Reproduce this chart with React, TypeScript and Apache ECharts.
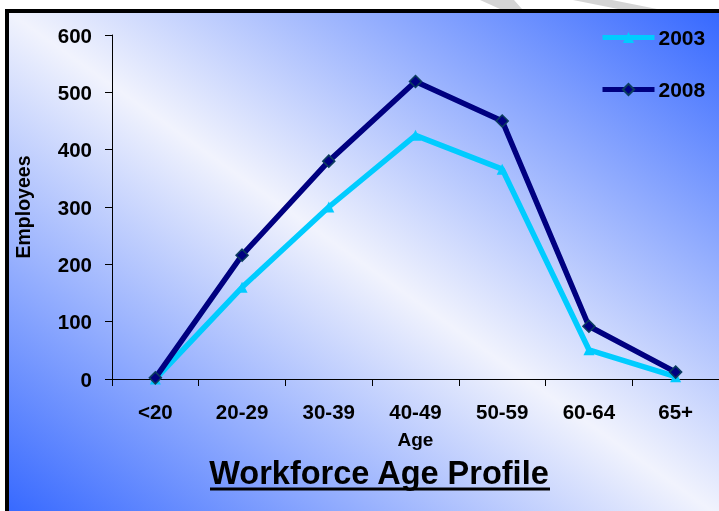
import React, { useEffect, useRef } from "react";
import * as echarts from "echarts";

const categories = ["<20", "20-29", "30-39", "40-49", "50-59", "60-64", "65+"];
const series2003 = [0, 160, 300, 425, 366, 51, 4];
const series2008 = [2, 216, 380, 519, 450, 92, 12];
const yTicks = { min: 0, max: 600, interval: 100 };

const FONT = "'Liberation Sans', Arial, sans-serif";

export default function App() {
  const ref = useRef<HTMLDivElement>(null);
  useEffect(() => {
    if (!ref.current) return;
    const chart = echarts.init(ref.current, null, { renderer: "svg" });
    const labelStyle = { color: "#000", fontWeight: "bold" as const, fontSize: 20, fontFamily: FONT };
    const legendCommon = {
      left: 600,
      padding: 0,
      itemWidth: 52,
      itemHeight: 14,
      itemGap: 4,
      lineStyle: { width: 5 },
      textStyle: { ...labelStyle, fontSize: 21, lineHeight: 20, padding: [0, 0, 0, -1] },
    };
    chart.setOption({
      animation: false,
      graphic: [
        {
          type: "polygon",
          z: -20,
          shape: { points: [[480, 0], [514, 0], [522, 9], [500, 9]] },
          style: { fill: "#d4d4d4" },
        },
        {
          type: "polygon",
          z: -20,
          shape: { points: [[573, 0], [612, 0], [657, 9], [618, 9]] },
          style: { fill: "#d4d4d4" },
        },
        {
          type: "rect",
          z: -10,
          shape: { x: 7, y: 11, width: 722, height: 512 },
          style: {
            stroke: "#000",
            lineWidth: 4,
            fill: new echarts.graphic.LinearGradient(1, 0, 0, 1, [
              { offset: 0, color: "#3366ff" },
              { offset: 0.5, color: "#f1f3fd" },
              { offset: 1, color: "#3366ff" },
            ]),
          },
        },
        {
          type: "text",
          z: 10,
          x: 379,
          y: 473,
          style: {
            text: "Workforce Age Profile",
            fill: "#000",
            font: `bold 32.5px ${FONT}`,
            textAlign: "center",
            textVerticalAlign: "middle",
          },
        },
        {
          type: "rect",
          z: 10,
          shape: { x: 210, y: 487.5, width: 340, height: 3 },
          style: { fill: "#000" },
        },
      ],
      legend: [
        { ...legendCommon, data: ["2003"], top: 27 },
        { ...legendCommon, data: ["2008"], top: 79 },
      ],
      grid: { left: 112, right: -5, top: 35, bottom: 132 },
      xAxis: {
        type: "category",
        data: categories,
        boundaryGap: true,
        name: "Age",
        nameLocation: "middle",
        nameGap: 51,
        nameTextStyle: { ...labelStyle, fontSize: 19 },
        axisLine: { show: true, lineStyle: { color: "#000", width: 1 } },
        axisTick: { show: true, length: 7, inside: false, alignWithLabel: false, lineStyle: { color: "#000" } },
        axisLabel: { ...labelStyle, fontSize: 20.5, margin: 22, interval: 0 },
        splitLine: { show: false },
      },
      yAxis: {
        type: "value",
        min: yTicks.min,
        max: yTicks.max,
        interval: yTicks.interval,
        name: "Employees",
        nameLocation: "middle",
        nameRotate: 90,
        nameGap: 79,
        nameTextStyle: { ...labelStyle, fontSize: 19.5 },
        axisLine: { show: true, lineStyle: { color: "#000", width: 1 } },
        axisTick: { show: true, length: 7, inside: false, lineStyle: { color: "#000" } },
        axisLabel: { ...labelStyle, fontSize: 20.5, margin: 20 },
        splitLine: { show: false },
      },
      series: [
        {
          name: "2003",
          type: "line",
          data: series2003,
          symbol: "triangle",
          symbolSize: 11,
          lineStyle: { color: "#00ccff", width: 5.5 },
          itemStyle: { color: "#00ccff" },
          z: 3,
        },
        {
          name: "2008",
          type: "line",
          data: series2008,
          symbol: "diamond",
          symbolSize: 12,
          lineStyle: { color: "#000080", width: 5.5 },
          itemStyle: { color: "#000080", borderColor: "#0b3d5e", borderWidth: 1.5 },
          z: 4,
        },
      ],
    });
    return () => chart.dispose();
  }, []);
  return (
    <div style={{ position: "fixed", left: 0, top: 0, width: 719, height: 511, overflow: "hidden" }}>
      <div ref={ref} style={{ width: 719, height: 511 }} />
    </div>
  );
}
